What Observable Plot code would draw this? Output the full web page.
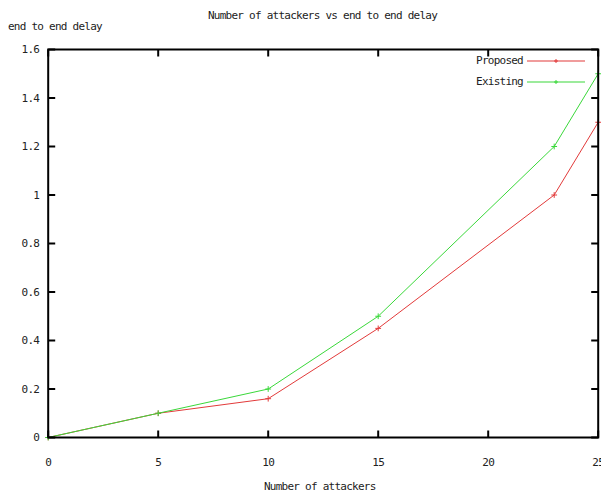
<!DOCTYPE html>
<html><head><meta charset="utf-8">
<script src="https://cdn.jsdelivr.net/npm/d3@7"></script>
<script src="https://cdn.jsdelivr.net/npm/@observablehq/plot@0.6"></script>
<style>
body{margin:0;background:#fff;}
#wrap{position:relative;width:601px;height:495px;overflow:hidden;font-family:"DejaVu Sans Mono",monospace;font-size:11px;letter-spacing:-0.75px;color:#222;}
.t{position:absolute;white-space:nowrap;}
</style></head><body>
<div id="wrap"></div>
<script>
const attackers = [0, 5, 10, 15, 23, 25];
const proposed = [0, 0.1, 0.16, 0.45, 1.0, 1.3];
const existing = [0, 0.1, 0.2, 0.5, 1.2, 1.5];
const xTicks = [0, 5, 10, 15, 20, 25];
const yTicks = [0, 0.2, 0.4, 0.6, 0.8, 1, 1.2, 1.4, 1.6];
const seriesNames = ["Proposed", "Existing"];
const seriesColors = ["#e23a3a", "#3ad83a"];
const titleText = "Number of attackers vs end to end delay";
const xLabelText = "Number of attackers";
const yLabelText = "end to end delay";

const rows = [];
attackers.forEach((a, i) => {
  rows.push({x: a, y: proposed[i], s: seriesNames[0]});
  rows.push({x: a, y: existing[i], s: seriesNames[1]});
});

const W = 601, H = 495, mL = 47.7, mR = 3.3, mT = 49, mB = 58;
const xDom = [xTicks[0], xTicks[xTicks.length - 1]];
const yDom = [yTicks[0], yTicks[yTicks.length - 1]];
const plotW = W - mL - mR, plotH = H - mT - mB, tl = 7;
const tyLen = (yDom[1] - yDom[0]) * tl / plotH;
const txLen = (xDom[1] - xDom[0]) * tl / plotW;
const tk = {stroke: "black", strokeWidth: 2, strokeOpacity: 1};
const chart = Plot.plot({
  width: W, height: H,
  marginLeft: mL, marginRight: mR, marginTop: mT, marginBottom: mB,
  style: {fontFamily: "DejaVu Sans Mono", fontSize: "11px", letterSpacing: "-0.75px", color: "#222", background: "#fff"},
  x: {domain: xDom},
  y: {domain: yDom},
  color: {domain: seriesNames, range: seriesColors},
  marks: [
    Plot.line(rows, {x: "x", y: "y", z: "s", stroke: "s", strokeWidth: 1}),
    Plot.dot(rows, {x: "x", y: "y", stroke: "s", symbol: "plus", r: 2, strokeWidth: 1}),
    Plot.axisX({anchor: "bottom", ticks: xTicks, tickSize: 0, tickPadding: 21, tickFormat: d => `${d}`, label: null}),
    Plot.axisY({anchor: "left", ticks: yTicks, tickSize: 0, tickPadding: 9, tickFormat: d => `${d}`, label: null}),
    Plot.frame({stroke: "#000", strokeWidth: 2}),
    Plot.link(xTicks, {x1: d => d, x2: d => d, y1: yDom[0], y2: yDom[0] + tyLen, ...tk}),
    Plot.link(xTicks, {x1: d => d, x2: d => d, y1: yDom[1], y2: yDom[1] - tyLen, ...tk}),
    Plot.link(yTicks, {y1: d => d, y2: d => d, x1: xDom[0], x2: xDom[0] + txLen, ...tk}),
    Plot.link(yTicks, {y1: d => d, y2: d => d, x1: xDom[1], x2: xDom[1] - txLen, ...tk})
  ]
});
const wrap = document.getElementById("wrap");
wrap.appendChild(chart);

function addText(txt, style) {
  const d = document.createElement("div");
  d.className = "t";
  d.textContent = txt;
  Object.assign(d.style, style);
  wrap.appendChild(d);
  return d;
}
addText(titleText, {left: "208px", top: "9px"});
addText(yLabelText, {left: "8px", top: "20px"});
addText(xLabelText, {left: "264px", top: "480px"});

// legend
seriesNames.forEach((name, i) => {
  const top = 54 + i * 21;
  addText(name, {right: "78px", top: top + "px"});
  const ln = document.createElementNS("http://www.w3.org/2000/svg", "svg");
  ln.setAttribute("width", 60); ln.setAttribute("height", 10);
  ln.style.position = "absolute"; ln.style.left = "527px"; ln.style.top = (top + 2) + "px";
  ln.innerHTML = `<line x1="0" x2="58" y1="5" y2="5" stroke="${seriesColors[i]}" stroke-width="1.2"/>
    <path d="M27,5h4M29,3v4" stroke="${seriesColors[i]}" stroke-width="1"/>`;
  wrap.appendChild(ln);
});
</script>
</body></html>
